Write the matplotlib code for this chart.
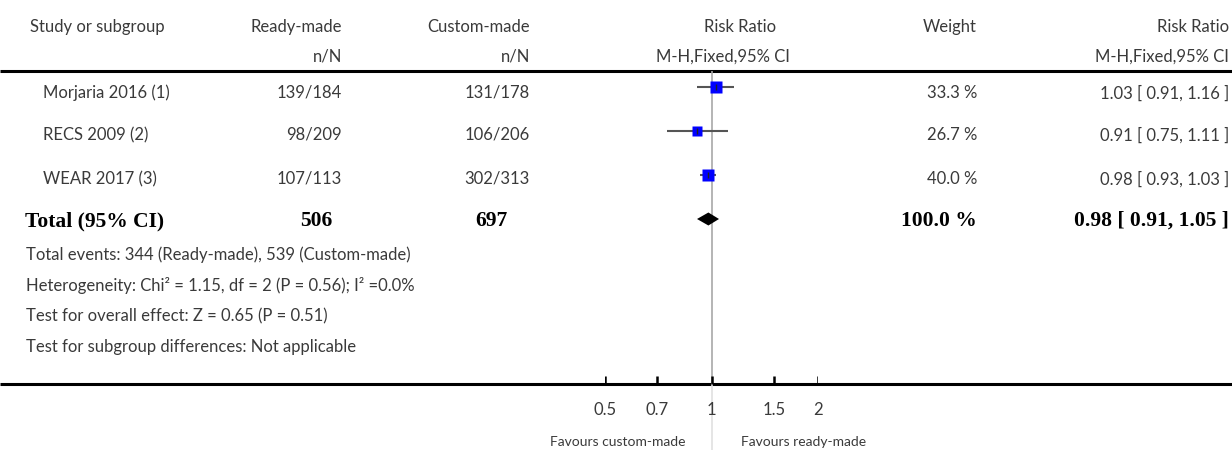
import numpy as np
import matplotlib.pyplot as plt

# study rows
studies = ['Morjaria 2016 (1)', 'RECS 2009 (2)', 'WEAR 2017 (3)']
ready = ['139/184', '98/209', '107/113']
custom = ['131/178', '106/206', '302/313']
rr = [1.03, 0.91, 0.98]
lo = [0.91, 0.75, 0.93]
hi = [1.16, 1.11, 1.03]
weight = [33.3, 26.7, 40.0]

# pooled
tot_ready, tot_custom = 506, 697
tot_rr, tot_lo, tot_hi = 0.98, 0.91, 1.05
tot_weight = 100.0

footer = ['Total events: 344 (Ready-made), 539 (Custom-made)',
          'Heterogeneity: Chi² = 1.15, df = 2 (P = 0.56); I² =0.0%',
          'Test for overall effect: Z = 0.65 (P = 0.51)',
          'Test for subgroup differences: Not applicable']
ticks = [0.5, 0.7, 1, 1.5, 2]
tick_labels = ['0.5', '0.7', '1', '1.5', '2']

W, H = 1232, 450
fig = plt.figure(figsize=(W / 100, H / 100), dpi=100)
ax = fig.add_axes([0, 0, 1, 1])
ax.set_xlim(0, W)
ax.set_ylim(H, 0)
ax.axis('off')

# forest panel, log scale from 0.5 to 2
fax = fig.add_axes([605 / W, 0, (818 - 605) / W, 1])
fax.set_xscale('log')
fax.set_xlim(0.5, 2)
fax.set_ylim(H, 0)
fax.axis('off')
fax.patch.set_alpha(0)

txt = dict(fontsize=12, color='#3a3a3a', family=['Lato', 'DejaVu Sans'])
bold = dict(fontsize=15.5, color='black', family='Liberation Serif', weight='bold')

# columns (right edges) in pixels
c_ready, c_custom, c_weight, c_rr = 342, 530, 977, 1229

# header
ax.text(30, 27, 'Study or subgroup', ha='left', va='center', **txt)
ax.text(c_ready, 27, 'Ready-made', ha='right', va='center', **txt)
ax.text(c_custom, 27, 'Custom-made', ha='right', va='center', **txt)
ax.text(740, 27, 'Risk Ratio', ha='center', va='center', **txt)
ax.text(c_weight, 27, 'Weight', ha='right', va='center', **txt)
ax.text(c_rr, 27, 'Risk Ratio', ha='right', va='center', **txt)
ax.text(c_ready, 57, 'n/N', ha='right', va='center', **txt)
ax.text(c_custom, 57, 'n/N', ha='right', va='center', **txt)
ax.text(723, 57, 'M-H,Fixed,95% CI', ha='center', va='center', **txt)
ax.text(c_rr, 57, 'M-H,Fixed,95% CI', ha='right', va='center', **txt)

ax.plot([0, W], [71, 71], color='black', lw=2.2, solid_capstyle='butt')

row_y = [93, 135, 179]
mark_y = [87, 131, 175]
# vertical line of no effect
fax.vlines(1, 71, 384, color='#a8a8a8', lw=1.2, zorder=1)
fax.vlines(1, 384, H, color='#e0e0e0', lw=1.2, zorder=1)

for i, y in enumerate(row_y):
    ax.text(43, y, studies[i], ha='left', va='center', **txt)
    ax.text(c_ready, y, ready[i], ha='right', va='center', **txt)
    ax.text(c_custom, y, custom[i], ha='right', va='center', **txt)
    ax.text(c_weight, y, '%.1f %%' % weight[i], ha='right', va='center', **txt)
    ax.text(c_rr, y, '%.2f [ %.2f, %.2f ]' % (rr[i], lo[i], hi[i]),
            ha='right', va='center', **txt)
    ym = mark_y[i]
    fax.hlines(ym, lo[i], hi[i], color='#555555', lw=1.5, clip_on=False, zorder=2)
    fax.plot(rr[i], ym, 's', color='#0000ff', ms=6.2 * np.sqrt(weight[i] / 20),
             mec='none', clip_on=False, zorder=3)
    fax.plot(rr[i], ym, '|', color='#222222', ms=4, mew=1, clip_on=False, zorder=4)

ty = 221
ax.text(25, ty, 'Total (95% CI)', ha='left', va='center', **bold)
ax.text(332, ty, str(tot_ready), ha='right', va='center', **bold)
ax.text(508, ty, str(tot_custom), ha='right', va='center', **bold)
ax.text(c_weight, ty, '%.1f %%' % tot_weight, ha='right', va='center', **bold)
ax.text(c_rr, ty, '%.2f [ %.2f, %.2f ]' % (tot_rr, tot_lo, tot_hi),
        ha='right', va='center', **bold)
dy = 219
fax.fill([tot_lo, tot_rr, tot_hi, tot_rr], [dy, dy - 6.5, dy, dy + 6.5],
         color='black', lw=0, clip_on=False, zorder=3)

for i, line in enumerate(footer):
    ax.text(26, 255 + i * 30.7, line, ha='left', va='center', **txt)

# bottom axis
ax.plot([0, W], [384, 384], color='black', lw=2.2, solid_capstyle='butt')
fax.vlines(ticks, 376, 384, color='black', lw=1.8)
for t, lab in zip(ticks, tick_labels):
    fax.text(t, 410, lab, ha='center', va='center', **txt)
fav = dict(fontsize=10, color='#3a3a3a', family='Lato')
fax.text(0.845, 442, 'Favours custom-made', ha='right', va='center', **fav)
fax.text(1.21, 442, 'Favours ready-made', ha='left', va='center', **fav)

fig.savefig('out.png', dpi=100)
